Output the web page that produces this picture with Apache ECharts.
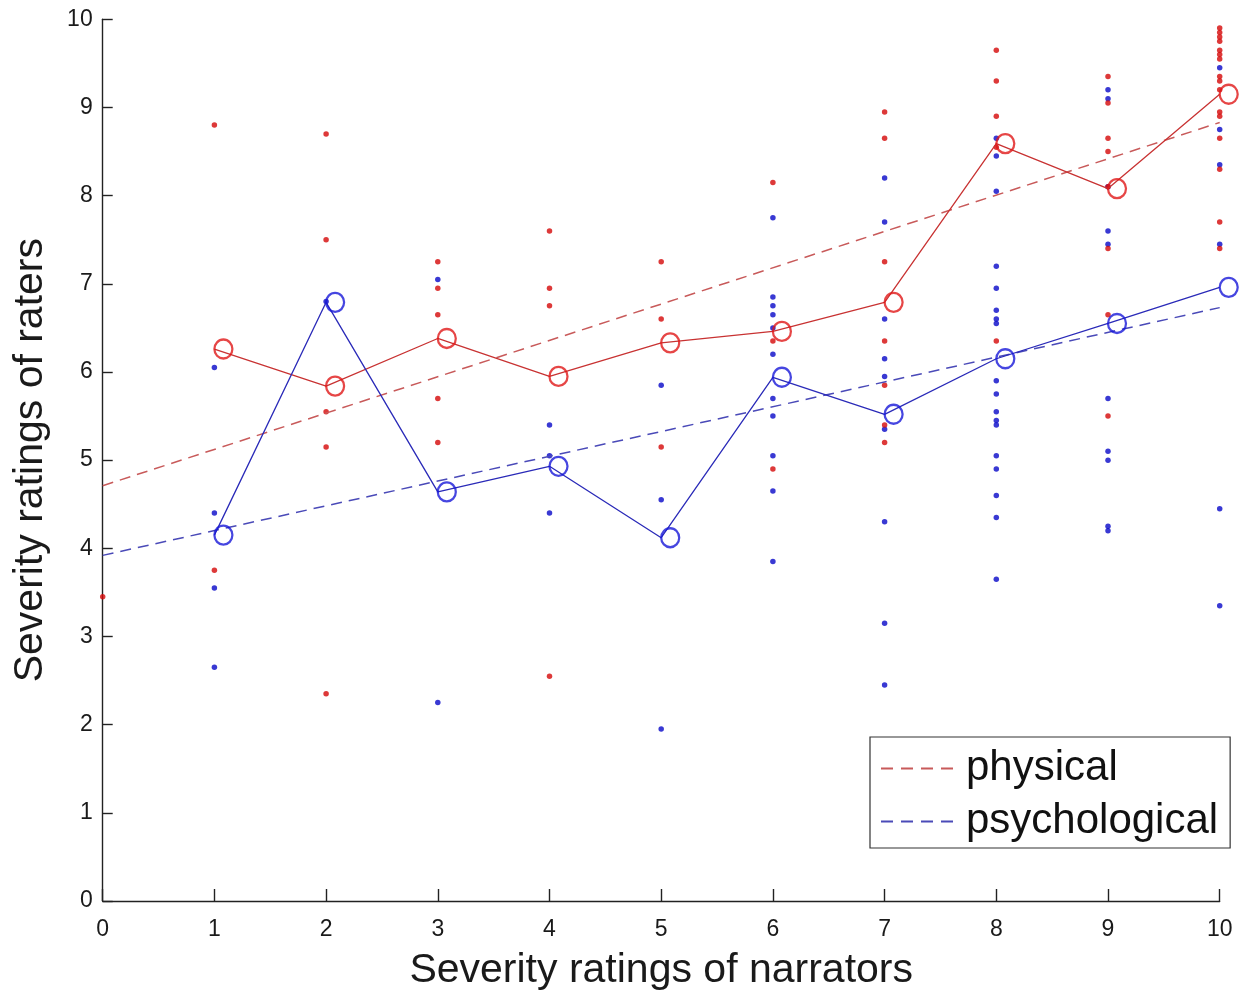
<!DOCTYPE html>
<html>
<head>
<meta charset="utf-8">
<script src="https://cdn.jsdelivr.net/npm/echarts@6/dist/echarts.min.js"></script>
<style>
  html, body { margin: 0; padding: 0; background: #fff; }
  #chart { width: 1243px; height: 996px; }
</style>
</head>
<body>
<div id="chart"></div>
<script>
// Narrator severity ratings (x positions)
const narratorRatings = [0, 1, 2, 3, 4, 5, 6, 7, 8, 9, 10];
const axisTicks = [0, 1, 2, 3, 4, 5, 6, 7, 8, 9, 10];

// Individual rater ratings, indexed by narrator rating
const physicalRatings = [
  [3.45],
  [8.8, 3.75],
  [8.7, 7.5, 5.55, 5.15, 2.35],
  [7.25, 6.95, 6.65, 5.7, 5.2],
  [7.6, 6.95, 6.75, 2.55],
  [7.25, 6.6, 5.15],
  [8.15, 6.35, 4.9],
  [8.95, 8.65, 7.25, 6.35, 5.85, 5.4, 5.2],
  [9.65, 9.3, 8.9, 8.55, 6.35],
  [9.35, 9.05, 8.65, 8.5, 8.1, 7.4, 6.65, 5.5],
  [9.9, 9.85, 9.8, 9.75, 9.65, 9.6, 9.55, 9.35, 9.3, 9.2, 8.95, 8.9, 8.65, 8.3, 7.7, 7.4]
];
const psychologicalRatings = [
  [],
  [6.05, 4.4, 3.55, 2.65],
  [6.8],
  [7.05, 2.25],
  [5.4, 5.05, 4.4],
  [5.85, 4.55, 1.95],
  [7.75, 6.85, 6.75, 6.65, 6.5, 6.2, 5.7, 5.5, 5.05, 4.65, 3.85],
  [8.2, 7.7, 6.6, 6.15, 5.95, 5.35, 4.3, 3.15, 2.45],
  [8.65, 8.45, 8.05, 7.2, 6.95, 6.7, 6.6, 6.55, 5.9, 5.75, 5.55, 5.45, 5.4, 5.05, 4.9, 4.6, 4.35, 3.65],
  [9.2, 9.1, 8.1, 7.6, 7.45, 5.7, 5.1, 5.0, 4.25, 4.2],
  [9.45, 8.75, 8.35, 7.45, 4.45, 3.35]
];

// Mean ratings per narrator rating (1..10)
const meanX = [1, 2, 3, 4, 5, 6, 7, 8, 9, 10];
const physicalMeans = [6.26, 5.84, 6.38, 5.95, 6.33, 6.46, 6.79, 8.59, 8.08, 9.15];
const psychologicalMeans = [4.15, 6.79, 4.64, 4.93, 4.12, 5.94, 5.52, 6.15, 6.55, 6.96];

// Linear fits (endpoints)
const fitX = [0, 10];
const physicalFit = [4.71, 8.83];
const psychologicalFit = [3.92, 6.73];

const FONT = '"Liberation Sans", Arial, Helvetica, sans-serif';
const RED = '#d40808';
const BLUE = '#0808c8';

const pts = (arr) => arr.flatMap((ys, i) => ys.map(y => [narratorRatings[i], y]));
const pair = (xs, ys) => xs.map((x, i) => [x, ys[i]]);

const axisCommon = {
  type: 'value', min: 0, max: 10, interval: 1,
  axisLine: { show: true, lineStyle: { color: '#222', width: 1.4 } },
  axisTick: { show: true, inside: true, lineStyle: { color: '#222', width: 1.4 } },
  splitLine: { show: false },
  axisLabel: {
    fontSize: 23, color: '#1a1a1a', fontFamily: FONT,
    formatter: (v) => axisTicks.includes(v) ? String(v) : ''
  },
  nameLocation: 'middle',
  nameTextStyle: { fontSize: 41, color: '#1a1a1a', fontFamily: FONT }
};

const chart = echarts.init(document.getElementById('chart'));
chart.setOption({
  animation: false,
  backgroundColor: '#fff',
  grid: { left: 102.7, right: 23.3, top: 19.3, bottom: 92.7, containLabel: false },
  xAxis: Object.assign({}, axisCommon, {
    name: 'Severity ratings of narrators', nameGap: 49,
    axisTick: Object.assign({}, axisCommon.axisTick, { length: 12 }),
    axisLabel: Object.assign({}, axisCommon.axisLabel, { margin: 17 })
  }),
  yAxis: Object.assign({}, axisCommon, {
    name: 'Severity ratings of raters', nameGap: 52, nameRotate: 90,
    axisTick: Object.assign({}, axisCommon.axisTick, { length: 10 }),
    axisLabel: Object.assign({}, axisCommon.axisLabel, { margin: 10 })
  }),
  legend: {
    data: ['physical', 'psychological'],
    orient: 'vertical', left: 870, top: 737,
    backgroundColor: '#fff', borderColor: '#333', borderWidth: 1.2,
    padding: [8, 12, 3, 10], itemWidth: 72, itemHeight: 14, itemGap: 6,
    selectedMode: false,
    itemStyle: { color: 'rgba(0,0,0,0)', borderWidth: 0, opacity: 0 },
    lineStyle: { type: [12, 8] },
    textStyle: { fontSize: 42, lineHeight: 47, color: '#111', fontFamily: FONT, padding: [0, 0, 0, 8] }
  },
  series: [
    {
      name: 'psychological points', type: 'scatter', data: pts(psychologicalRatings),
      symbol: 'circle', symbolSize: 5.5, itemStyle: { color: BLUE }, z: 2
    },
    {
      name: 'physical points', type: 'scatter', data: pts(physicalRatings),
      symbol: 'circle', symbolSize: 5.5, itemStyle: { color: RED }, z: 2
    },
    {
      name: 'physical', type: 'line', data: pair(fitX, physicalFit),
      symbol: 'none', itemStyle: { color: '#c85a5a' },
      lineStyle: { color: '#c85a5a', width: 1.5, type: [11, 7] }, z: 3
    },
    {
      name: 'psychological', type: 'line', data: pair(fitX, psychologicalFit),
      symbol: 'none', itemStyle: { color: '#4a4ab8' },
      lineStyle: { color: '#4a4ab8', width: 1.5, type: [11, 7] }, z: 3
    },
    {
      name: 'physical mean', type: 'line', data: pair(meanX, physicalMeans),
      symbol: 'none', lineStyle: { color: '#c83232', width: 1.3 }, z: 4
    },
    {
      name: 'psychological mean', type: 'line', data: pair(meanX, psychologicalMeans),
      symbol: 'none', lineStyle: { color: '#2a2ab8', width: 1.3 }, z: 4
    },
    {
      name: 'physical mean marker', type: 'scatter', data: pair(meanX, physicalMeans),
      symbol: 'circle', symbolSize: [18, 19], symbolOffset: [9, 0],
      itemStyle: { color: 'rgba(0,0,0,0)', borderColor: '#e01818', borderWidth: 2.3 }, z: 5
    },
    {
      name: 'psychological mean marker', type: 'scatter', data: pair(meanX, psychologicalMeans),
      symbol: 'circle', symbolSize: [18, 19], symbolOffset: [9, 0],
      itemStyle: { color: 'rgba(0,0,0,0)', borderColor: '#1818d8', borderWidth: 2.3 }, z: 5
    }
  ]
});
</script>
</body>
</html>
